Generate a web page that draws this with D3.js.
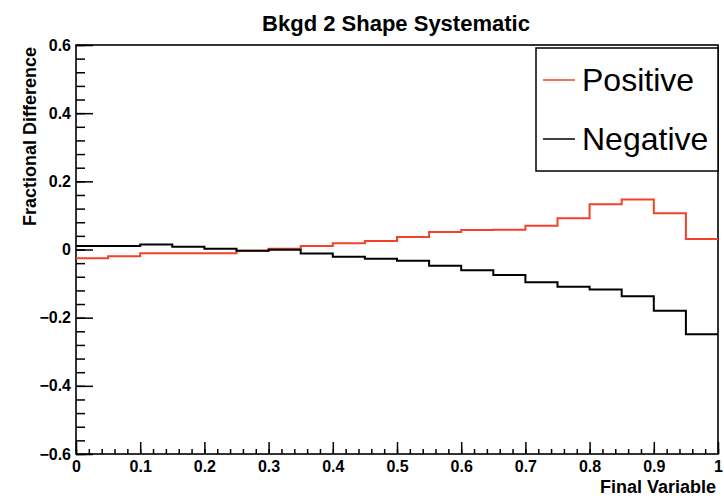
<!DOCTYPE html>
<html>
<head>
<meta charset="utf-8">
<script src="https://cdn.jsdelivr.net/npm/d3@7"></script>
<style>
  body { margin: 0; background: #fff; }
  svg { display: block; }
  .tick text { font-family: "Liberation Sans", Arial, sans-serif; font-weight: bold; font-size: 16px; fill: #000; }
</style>
</head>
<body>
<svg id="chart"></svg>
<script>
// bin low edges (width 0.05)
let binEdges = [0, 0.05, 0.1, 0.15, 0.2, 0.25, 0.3, 0.35, 0.4, 0.45,
                0.5, 0.55, 0.6, 0.65, 0.7, 0.75, 0.8, 0.85, 0.9, 0.95]
let positiveVals = [-0.026, -0.020, -0.011, -0.011, -0.011, -0.004, 0.002, 0.010, 0.018, 0.025,
                    0.037, 0.051, 0.057, 0.058, 0.070, 0.092, 0.133, 0.147, 0.106, 0.031]
let negativeVals = [0.010, 0.010, 0.015, 0.008, 0.002, -0.004, -0.001, -0.012, -0.021, -0.027,
                    -0.033, -0.048, -0.061, -0.075, -0.096, -0.109, -0.117, -0.137, -0.180, -0.249]
let xTicks = [0, 0.1, 0.2, 0.3, 0.4, 0.5, 0.6, 0.7, 0.8, 0.9, 1]
let yTicks = [-0.6, -0.4, -0.2, 0, 0.2, 0.4, 0.6]
let legendNames = ['Positive', 'Negative']
let seriesColors = ['#f5412a', '#000000']

function getConfig(){
    let width = 724
    let height = 496
    let margin = { top: 45, bottom: 42, left: 76, right: 6 }
    let bodyWidth = width - margin.left - margin.right
    let bodyHeight = height - margin.top - margin.bottom
    let container = d3.select('#chart')
        .attr('width', width)
        .attr('height', height)
    return { width, height, margin, bodyWidth, bodyHeight, container }
}

function getScales(config){
    let xScale = d3.scaleLinear()
        .domain([0, 1])
        .range([config.margin.left, config.margin.left + config.bodyWidth])
    let yScale = d3.scaleLinear()
        .domain([-0.6, 0.6])
        .range([config.margin.top + config.bodyHeight, config.margin.top])
    return { xScale, yScale }
}

// ROOT style labels: 0, 0.1 ... 1
let fmt = d3.format('~g')

function drawAxes(scales, config){
    let { xScale, yScale } = scales
    let { container, margin, bodyHeight, bodyWidth } = config
    let bottom = margin.top + bodyHeight

    // minor ticks
    let xMinor = d3.range(0, 51).map(i => i / 50)
    container.append('g')
        .attr('transform', `translate(0,${bottom})`)
        .call(d3.axisBottom(xScale).tickValues(xMinor).tickSize(-5).tickFormat(''))
        .call(g => g.select('.domain').remove())
    let yMinor = d3.range(0, 31).map(i => -0.6 + i * 0.04)
    container.append('g')
        .attr('transform', `translate(${margin.left},0)`)
        .call(d3.axisLeft(yScale).tickValues(yMinor).tickSize(-9).tickFormat(''))
        .call(g => g.select('.domain').remove())

    // major ticks + labels
    container.append('g')
        .attr('transform', `translate(0,${bottom})`)
        .call(d3.axisBottom(xScale).tickValues(xTicks).tickSize(-12).tickPadding(7).tickFormat(fmt))
        .call(g => g.select('.domain').remove())
    container.append('g')
        .attr('transform', `translate(${margin.left},0)`)
        .call(d3.axisLeft(yScale).tickValues(yTicks).tickSize(-17).tickPadding(5).tickFormat(fmt))
        .call(g => g.select('.domain').remove())

    container.selectAll('.tick line').attr('stroke', '#000').attr('stroke-width', 1.5)

    // frame
    container.append('rect')
        .attr('x', margin.left)
        .attr('y', margin.top)
        .attr('width', bodyWidth)
        .attr('height', bodyHeight)
        .attr('fill', 'none')
        .attr('stroke', '#000')
        .attr('stroke-width', 1.6)

    // titles
    container.append('text')
        .attr('x', 396)
        .attr('y', 31)
        .attr('text-anchor', 'middle')
        .style('font-family', '"Liberation Sans", Arial, sans-serif')
        .style('font-weight', 'bold')
        .style('font-size', '22px')
        .text('Bkgd 2 Shape Systematic')

    container.append('text')
        .attr('x', margin.left + bodyWidth - 2)
        .attr('y', 493)
        .attr('text-anchor', 'end')
        .style('font-family', '"Liberation Sans", Arial, sans-serif')
        .style('font-weight', 'bold')
        .style('font-size', '18px')
        .text('Final Variable')

    container.append('text')
        .attr('transform', `translate(36,${margin.top + 2}) rotate(-90)`)
        .attr('text-anchor', 'end')
        .style('font-family', '"Liberation Sans", Arial, sans-serif')
        .style('font-weight', 'bold')
        .style('font-size', '18px')
        .text('Fractional Difference')
}

function drawHistograms(scales, config){
    let { xScale, yScale } = scales
    let { container } = config
    let line = d3.line()
        .x(d => xScale(d.x))
        .y(d => yScale(d.v))
        .curve(d3.curveStepAfter)

    let series = [positiveVals, negativeVals]
    series.forEach((vals, si) => {
        let pts = binEdges.map((e, i) => ({ x: e, v: vals[i] }))
        pts.push({ x: 1, v: vals[vals.length - 1] })
        container.append('path')
            .datum(pts)
            .attr('d', line)
            .attr('fill', 'none')
            .attr('stroke', seriesColors[si])
            .attr('stroke-width', 2)
    })
}

function drawLegend(config){
    let { container } = config
    let lg = container.append('g')
    lg.append('rect')
        .attr('x', 536)
        .attr('y', 48)
        .attr('width', 182)
        .attr('height', 123)
        .attr('fill', '#fff')
        .attr('stroke', '#000')
        .attr('stroke-width', 1.5)
    let rowY = [80, 139]
    legendNames.forEach((name, i) => {
        lg.append('line')
            .attr('x1', 543).attr('x2', 575)
            .attr('y1', rowY[i]).attr('y2', rowY[i])
            .attr('stroke', seriesColors[i])
            .attr('stroke-width', 1.5)
        lg.append('text')
            .attr('x', 582)
            .attr('y', rowY[i] + 11)
            .style('font-family', '"Liberation Sans", Arial, sans-serif')
            .style('font-size', '32px')
            .text(name)
    })
}

let config = getConfig()
let scales = getScales(config)
drawAxes(scales, config)
drawHistograms(scales, config)
drawLegend(config)
</script>
</body>
</html>
